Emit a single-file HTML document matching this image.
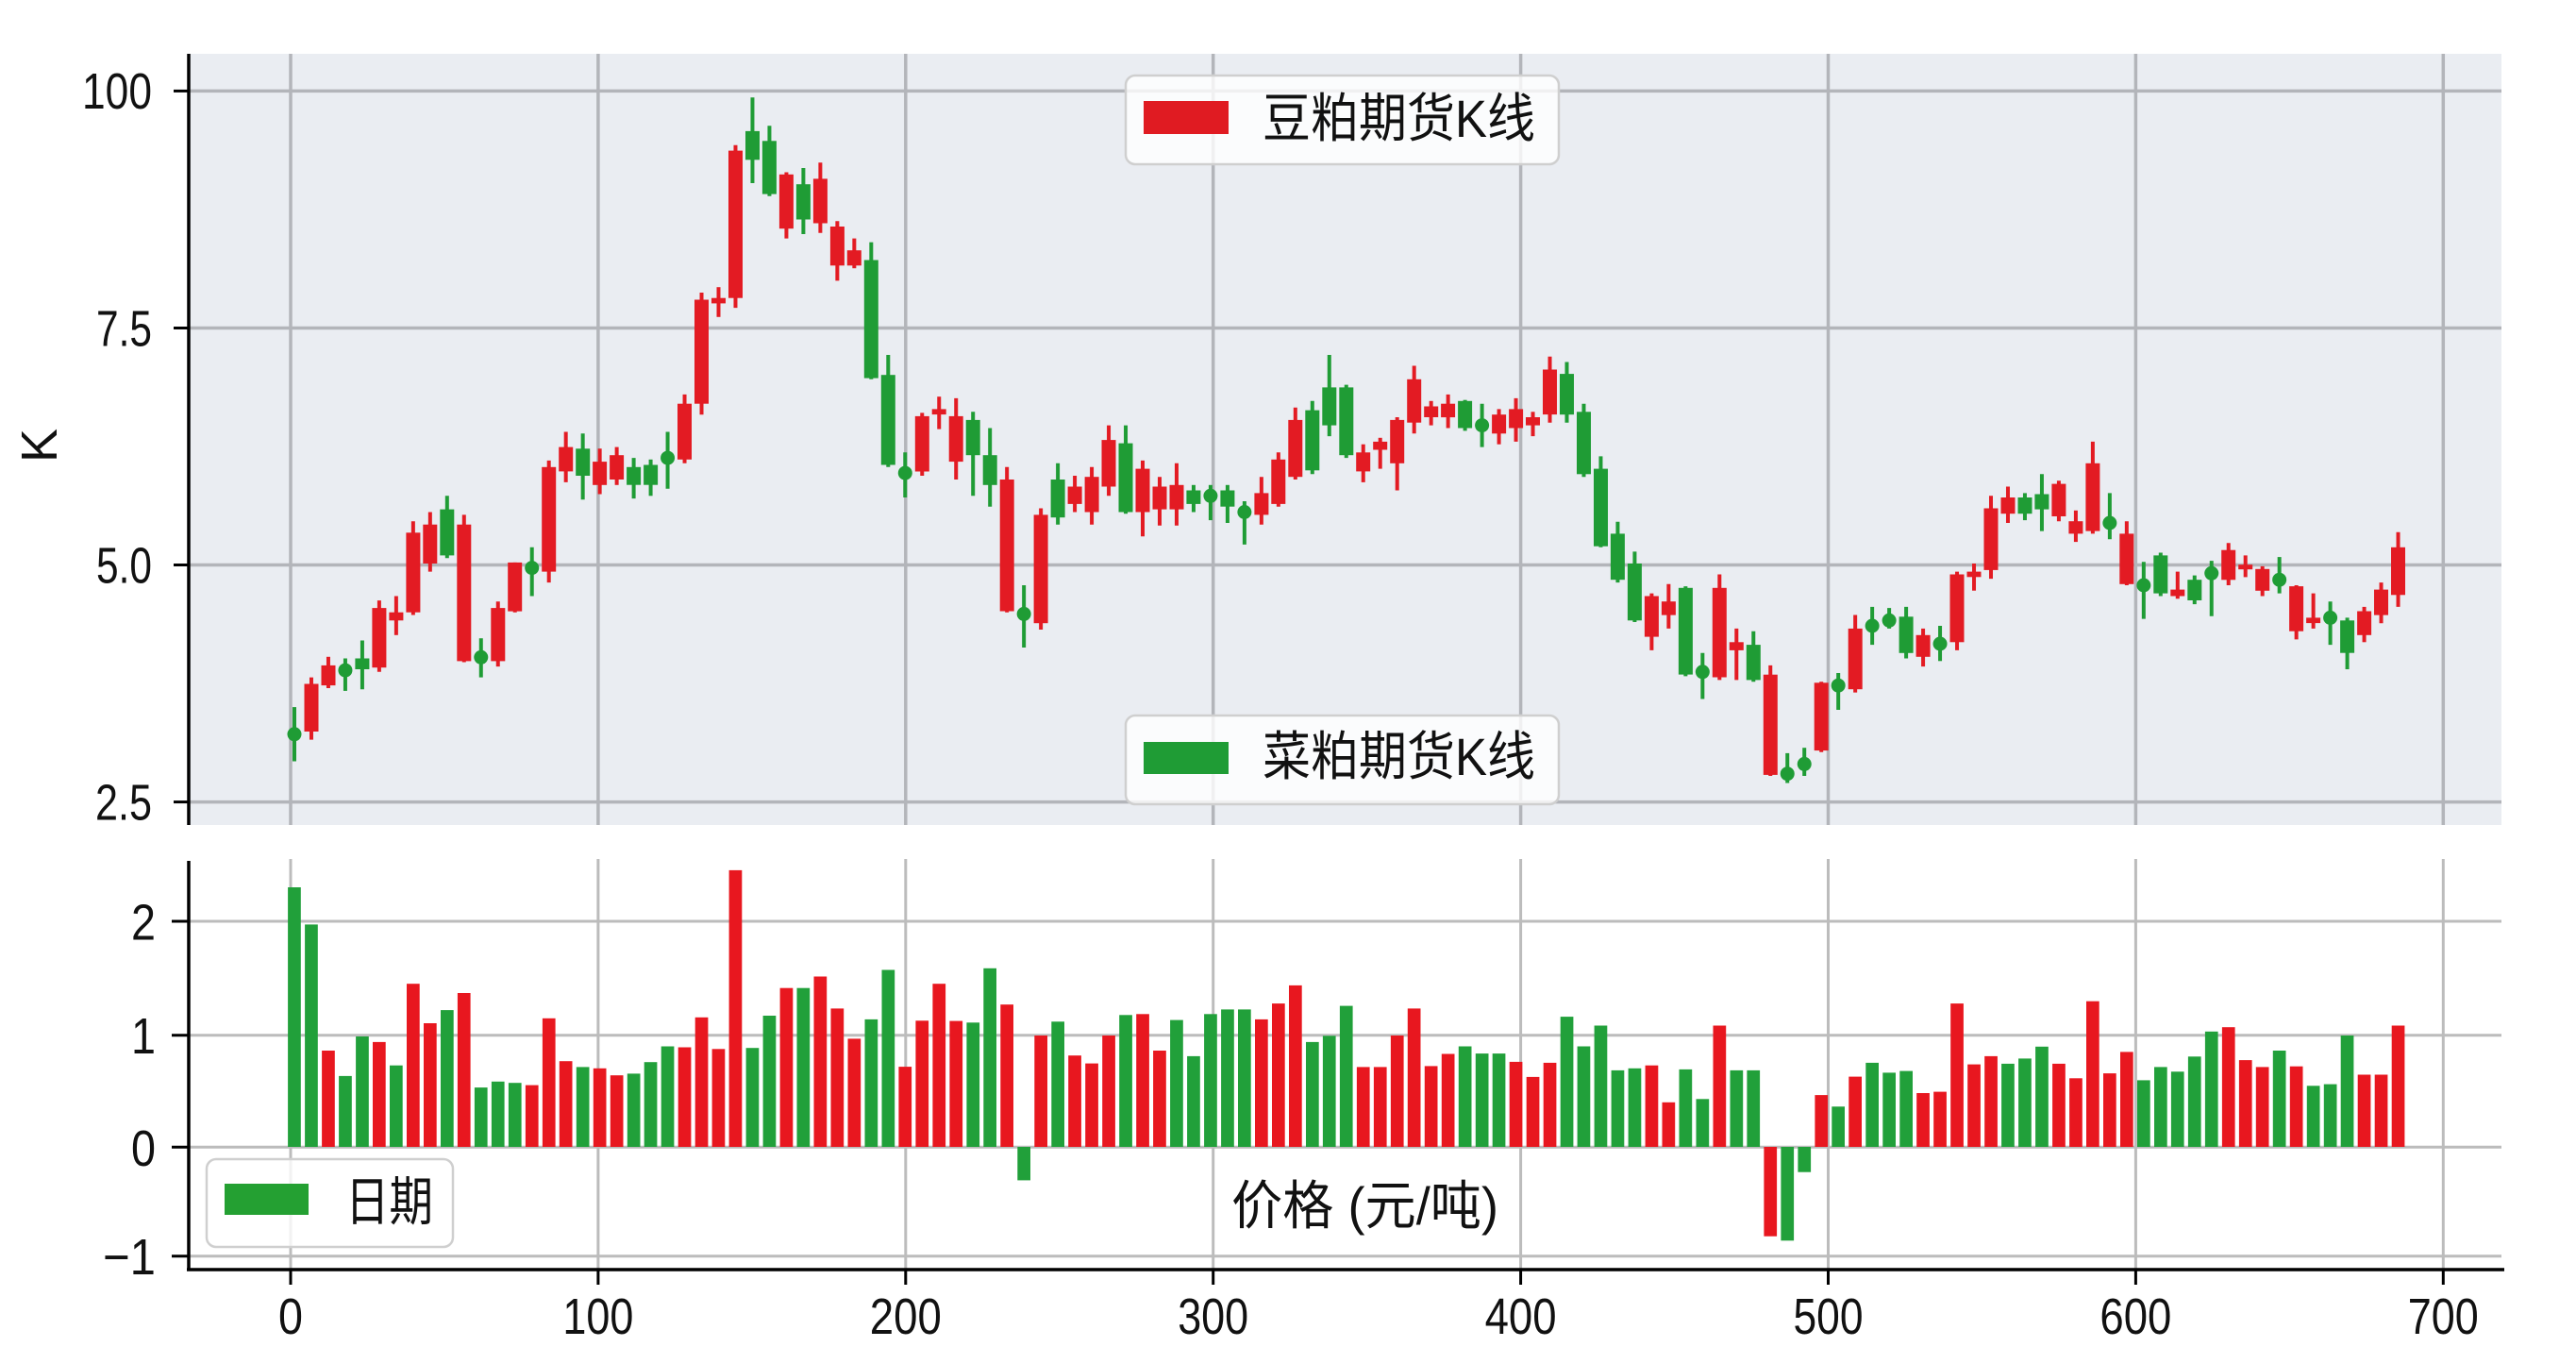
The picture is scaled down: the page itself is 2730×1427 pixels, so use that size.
<!DOCTYPE html>
<html>
<head>
<meta charset="utf-8">
<style>
html,body{margin:0;padding:0;background:#fff;}
svg{display:block;}
.t{font-family:"Liberation Sans","DejaVu Sans",sans-serif;font-size:54px;fill:#111;}
.c{font-family:"Liberation Sans","Noto Sans CJK SC",sans-serif;font-size:56px;fill:#111;}
</style>
</head>
<body>
<svg id="s" width="2730" height="1427" viewBox="0 0 2730 1427" xmlns="http://www.w3.org/2000/svg">
<rect x="0" y="0" width="2730" height="1427" fill="#ffffff"/>

<!-- ===== Upper panel ===== -->
<rect x="200" y="57" width="2451" height="817" fill="#eaedf2"/>
<g stroke="#b3b5ba" stroke-width="3.5">
  <line x1="308" y1="57" x2="308" y2="874"/>
  <line x1="633.9" y1="57" x2="633.9" y2="874"/>
  <line x1="959.8" y1="57" x2="959.8" y2="874"/>
  <line x1="1285.7" y1="57" x2="1285.7" y2="874"/>
  <line x1="1611.6" y1="57" x2="1611.6" y2="874"/>
  <line x1="1937.5" y1="57" x2="1937.5" y2="874"/>
  <line x1="2263.4" y1="57" x2="2263.4" y2="874"/>
  <line x1="2589.3" y1="57" x2="2589.3" y2="874"/>
  <line x1="200" y1="96.4" x2="2651" y2="96.4"/>
  <line x1="200" y1="347.5" x2="2651" y2="347.5"/>
  <line x1="200" y1="598.5" x2="2651" y2="598.5"/>
  <line x1="200" y1="849.6" x2="2651" y2="849.6"/>
</g>
<g id="candles"></g>

<!-- legends upper -->
<rect x="1193" y="80" width="459" height="94" rx="10" ry="10" fill="#ffffff" fill-opacity="0.8" stroke="#cfcfcf" stroke-width="2.5"/>
<rect x="1212" y="107" width="90" height="35" fill="#e01b22"/>
<text class="c" x="1338" y="145" textLength="289" lengthAdjust="spacingAndGlyphs">豆粕期货K线</text>

<rect x="1193" y="758" width="459" height="94" rx="10" ry="10" fill="#ffffff" fill-opacity="0.8" stroke="#cfcfcf" stroke-width="2.5"/>
<rect x="1212" y="786" width="90" height="34" fill="#1f9c35"/>
<text class="c" x="1338" y="821" textLength="289" lengthAdjust="spacingAndGlyphs">菜粕期货K线</text>

<!-- upper spine + ticks -->
<line x1="200" y1="57" x2="200" y2="874" stroke="#000" stroke-width="3.5"/>
<g stroke="#000" stroke-width="3">
  <line x1="184" y1="96.4" x2="200" y2="96.4"/>
  <line x1="184" y1="347.5" x2="200" y2="347.5"/>
  <line x1="184" y1="598.5" x2="200" y2="598.5"/>
  <line x1="184" y1="849.6" x2="200" y2="849.6"/>
</g>
<text class="t" x="161" y="115" text-anchor="end" textLength="74" lengthAdjust="spacingAndGlyphs">100</text>
<text class="t" x="161" y="366.5" text-anchor="end" textLength="59" lengthAdjust="spacingAndGlyphs">7.5</text>
<text class="t" x="161" y="617.5" text-anchor="end" textLength="59" lengthAdjust="spacingAndGlyphs">5.0</text>
<text class="t" x="161" y="868.6" text-anchor="end" textLength="60" lengthAdjust="spacingAndGlyphs">2.5</text>
<text class="t" x="0" y="0" font-size="54" text-anchor="middle" transform="translate(60,472) rotate(-90)">K</text>

<!-- ===== Lower panel ===== -->
<g stroke="#bcbcbc" stroke-width="3">
  <line x1="308" y1="910" x2="308" y2="1345"/>
  <line x1="633.9" y1="910" x2="633.9" y2="1345"/>
  <line x1="959.8" y1="910" x2="959.8" y2="1345"/>
  <line x1="1285.7" y1="910" x2="1285.7" y2="1345"/>
  <line x1="1611.6" y1="910" x2="1611.6" y2="1345"/>
  <line x1="1937.5" y1="910" x2="1937.5" y2="1345"/>
  <line x1="2263.4" y1="910" x2="2263.4" y2="1345"/>
  <line x1="2589.3" y1="910" x2="2589.3" y2="1345"/>
  <line x1="200" y1="976" x2="2651" y2="976"/>
  <line x1="200" y1="1096.7" x2="2651" y2="1096.7"/>
  <line x1="200" y1="1215.3" x2="2651" y2="1215.3"/>
  <line x1="200" y1="1330.7" x2="2651" y2="1330.7"/>
</g>
<g id="bars"></g>

<rect x="219" y="1228" width="261" height="93" rx="10" ry="10" fill="#ffffff" fill-opacity="0.8" stroke="#cfcfcf" stroke-width="2.5"/>
<rect x="238" y="1254" width="89" height="33" fill="#24a032"/>
<text class="c" x="366" y="1293" textLength="93" lengthAdjust="spacingAndGlyphs">日期</text>

<text class="c" x="1305" y="1297" textLength="283" lengthAdjust="spacingAndGlyphs">价格 (元/吨)</text>

<line x1="200" y1="912" x2="200" y2="1346.5" stroke="#000" stroke-width="3.5"/>
<line x1="198" y1="1345" x2="2654" y2="1345" stroke="#000" stroke-width="3.5"/>
<g stroke="#000" stroke-width="3">
  <line x1="182" y1="976" x2="200" y2="976"/>
  <line x1="182" y1="1096.7" x2="200" y2="1096.7"/>
  <line x1="182" y1="1215.3" x2="200" y2="1215.3"/>
  <line x1="182" y1="1330.7" x2="200" y2="1330.7"/>
  <line x1="308" y1="1345" x2="308" y2="1361"/>
  <line x1="633.9" y1="1345" x2="633.9" y2="1361"/>
  <line x1="959.8" y1="1345" x2="959.8" y2="1361"/>
  <line x1="1285.7" y1="1345" x2="1285.7" y2="1361"/>
  <line x1="1611.6" y1="1345" x2="1611.6" y2="1361"/>
  <line x1="1937.5" y1="1345" x2="1937.5" y2="1361"/>
  <line x1="2263.4" y1="1345" x2="2263.4" y2="1361"/>
  <line x1="2589.3" y1="1345" x2="2589.3" y2="1361"/>
</g>
<text class="t" x="165" y="995.5" text-anchor="end" textLength="26" lengthAdjust="spacingAndGlyphs">2</text>
<text class="t" x="165" y="1116" text-anchor="end" textLength="26" lengthAdjust="spacingAndGlyphs">1</text>
<text class="t" x="165" y="1235" text-anchor="end" textLength="26" lengthAdjust="spacingAndGlyphs">0</text>
<text class="t" x="165" y="1350" text-anchor="end" textLength="56" lengthAdjust="spacingAndGlyphs">−1</text>

<text class="t" x="308" y="1413" text-anchor="middle" textLength="26" lengthAdjust="spacingAndGlyphs">0</text>
<text class="t" x="633.9" y="1413" text-anchor="middle" textLength="75" lengthAdjust="spacingAndGlyphs">100</text>
<text class="t" x="959.8" y="1413" text-anchor="middle" textLength="76" lengthAdjust="spacingAndGlyphs">200</text>
<text class="t" x="1285.7" y="1413" text-anchor="middle" textLength="75" lengthAdjust="spacingAndGlyphs">300</text>
<text class="t" x="1611.6" y="1413" text-anchor="middle" textLength="76" lengthAdjust="spacingAndGlyphs">400</text>
<text class="t" x="1937.5" y="1413" text-anchor="middle" textLength="74" lengthAdjust="spacingAndGlyphs">500</text>
<text class="t" x="2263.4" y="1413" text-anchor="middle" textLength="76" lengthAdjust="spacingAndGlyphs">600</text>
<text class="t" x="2589.3" y="1413" text-anchor="middle" textLength="75" lengthAdjust="spacingAndGlyphs">700</text>
</svg>

<script>
(function(){
var NS="http://www.w3.org/2000/svg";
var X0=312, DX=17.98, FY=1.742;
var RED="#e31b23", GRN="#1f9c35", RBAR="#e8171f", GBAR="#21a03a";
var C=[
["G",1355,1355,1305,1405],["R",1262,1350,1250,1365],["R",1228,1265,1212,1270],["G",1237,1237,1215,1275],
["G",1215,1235,1182,1272],["R",1122,1232,1108,1240],["R",1130,1145,1100,1172],["R",983,1130,962,1135],
["R",968,1040,945,1055],["G",940,1025,915,1030],["R",968,1220,950,1222],["G",1213,1213,1178,1250],
["R",1122,1220,1110,1230],["R",1038,1128,1038,1130],["G",1048,1048,1010,1100],["R",862,1055,850,1075],
["R",825,870,797,890],["G",828,878,800,922],["R",852,895,828,912],["R",840,885,825,895],
["G",862,895,845,920],["G",858,895,848,915],["G",845,845,797,902],["R",745,848,728,855],
["R",553,745,540,765],["R",550,560,530,585],["R",278,550,268,568],["G",242,295,180,338],
["G",260,358,232,362],["R",322,422,318,440],["G",340,405,310,432],["R",330,412,300,430],
["R",418,490,408,518],["R",462,490,440,495],["G",480,698,447,700],["G",692,858,655,862],
["G",873,873,835,918],["R",768,870,762,878],["R",755,765,732,792],["R",768,852,735,885],
["G",775,840,760,915],["G",840,895,790,935],["R",885,1128,862,1130],["G",1133,1133,1080,1195],
["R",950,1150,938,1162],["G",885,955,855,968],["R",898,930,878,945],["R",880,945,862,968],
["R",812,898,785,915],["G",818,945,785,948],["R",865,945,850,990],["R",898,940,880,970],
["R",895,940,855,970],["G",905,930,895,945],["G",915,915,895,960],["G",905,935,895,965],
["G",945,945,925,1005],["R",910,950,880,968],["R",848,930,835,935],["R",775,880,752,885],
["G",757,868,740,875],["G",715,785,655,805],["G",715,840,710,845],["R",835,870,820,890],
["R",815,830,808,865],["R",775,855,770,905],["R",700,780,675,800],["R",750,770,740,785],
["R",745,770,728,790],["G",740,790,738,795],["G",785,785,745,825],["R",765,800,755,820],
["R",755,790,735,815],["R",770,785,760,805],["R",682,765,658,780],["G",690,765,668,780],
["G",760,875,745,880],["G",865,1008,842,1010],["G",985,1070,963,1075],["G",1040,1145,1018,1148],
["R",1100,1175,1095,1200],["R",1110,1135,1078,1160],["G",1085,1245,1082,1248],["G",1240,1240,1205,1290],
["R",1085,1250,1060,1255],["R",1185,1200,1160,1255],["G",1190,1255,1165,1258],["R",1245,1430,1228,1432],
["G",1428,1428,1390,1445],["G",1410,1410,1380,1432],["R",1260,1385,1258,1388],["G",1265,1265,1242,1310],
["R",1160,1272,1135,1278],["G",1155,1155,1120,1190],["G",1145,1145,1122,1160],["G",1138,1205,1120,1215],
["R",1172,1212,1160,1230],["G",1188,1188,1155,1220],["R",1060,1185,1055,1200],["R",1055,1065,1040,1090],
["R",938,1052,915,1068],["R",918,948,898,965],["G",918,948,910,960],["G",912,940,875,980],
["R",893,953,887,962],["R",962,985,942,1000],["R",855,980,815,985],["G",965,965,910,995],
["R",985,1078,962,1080],["G",1080,1080,1037,1142],["G",1025,1095,1020,1100],["R",1088,1100,1055,1105],
["G",1070,1108,1062,1115],["G",1058,1058,1035,1137],["R",1015,1070,1002,1080],["R",1042,1050,1025,1065],
["R",1050,1090,1045,1100],["G",1070,1070,1028,1095],["R",1082,1165,1080,1180],["R",1140,1150,1095,1160],
["G",1140,1140,1110,1190],["G",1145,1205,1140,1235],["R",1128,1172,1120,1185],["R",1088,1135,1075,1150],
["R",1010,1098,982,1120]
];
var B=[
"G172","G285","R668","G745","G625","R642","G713","R465","R585","G545","R493","G780","G762","G766","R773","R570","R700","G718","R722","R743","G738","G703","G655","R658","R567","R663","R120","G660","G562","R478","G478","R443","R540","R632","G573","G423","R717","R577","R465",
"R578","G583","G418","R528","G1062","R622","G580","R683","R707","R622","G560","R557","R668","G575","G685","G557","G543","G543","R573","R525","R470","G642","G623","G532","R718","R718","R622","R540","R715","R678","G655","G677","G677","R702","R748","R705","G565","G655","G592","G728","G722","R713","R825","G725","G815","R592","G728","G728","R1232","G1245","G1037","R803","G838","R747","G705",
"G735","G730","R797","R793","R525","R710","R685","G708","G692","G656","R708","R752","R518","R737","R672","G758","G718","G732","G686","G610","R597","R697","R718","G668","R716","G775","G770","G622","R741","R741","R592"
];
function el(n,a){var e=document.createElementNS(NS,n);for(var k in a)e.setAttribute(k,a[k]);return e;}
var gc=document.getElementById("candles"), gb=document.getElementById("bars");
for(var i=0;i<C.length;i++){
  var d=C[i], x=X0+i*DX, col=d[0]=="R"?RED:GRN;
  gc.appendChild(el("line",{x1:x,x2:x,y1:(d[3]/FY).toFixed(1),y2:(d[4]/FY).toFixed(1),stroke:col,"stroke-width":4}));
  var t=d[1]/FY, b=d[2]/FY;
  if(d[1]==d[2]){
    gc.appendChild(el("circle",{cx:x,cy:t.toFixed(1),r:7.5,fill:col}));
  } else {
    var h=Math.max(b-t,5);
    gc.appendChild(el("rect",{x:(x-7.5).toFixed(1),y:t.toFixed(1),width:15,height:h.toFixed(1),fill:col}));
  }
}
var Y0=1215;
for(var j=0;j<B.length;j++){
  var s=B[j], c=s[0]=="R"?RBAR:GBAR, z=parseFloat(s.slice(1));
  var y=880+z/2.867, x2=X0+j*DX;
  var top=Math.min(y,Y0), hh=Math.abs(y-Y0);
  gb.appendChild(el("rect",{x:(x2-6.85).toFixed(1),y:top.toFixed(1),width:13.7,height:hh.toFixed(1),fill:c}));
}
})();
</script>
</body>
</html>
